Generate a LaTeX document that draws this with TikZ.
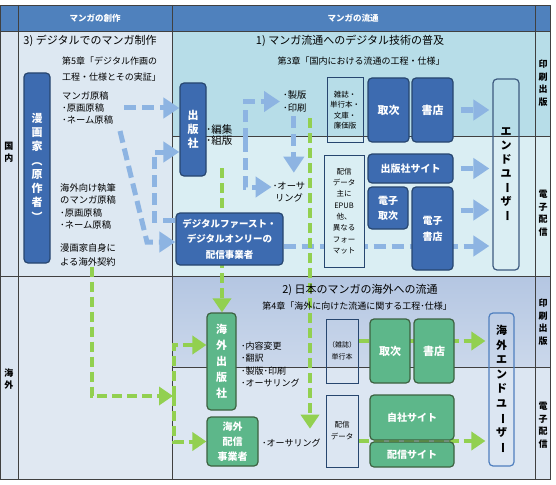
\documentclass[tikz,border=0pt]{standalone}
\usepackage{fontspec}
\setmainfont{Noto Sans CJK JP}
\usetikzlibrary{arrows.meta}
\definecolor{hdblue}{HTML}{4F81BD}
\definecolor{pubblue}{HTML}{3D6BB0}
\definecolor{publine}{HTML}{27466F}
\definecolor{grnfill}{HTML}{5DB78A}
\definecolor{grnline}{HTML}{3C6140}
\definecolor{arrblue}{HTML}{8DB4E2}
\definecolor{arrgreen}{HTML}{92D050}
\definecolor{printbg}{HTML}{B7DDE8}
\definecolor{ebg}{HTML}{DAEEF3}
\definecolor{leftbg}{HTML}{DDE8F2}
\definecolor{firstcol}{HTML}{DBE5F1}
\definecolor{ovtop}{HTML}{B4C6E2}
\definecolor{ovbot}{HTML}{CBD8EB}
\definecolor{ovebg}{HTML}{DCE6F2}
\definecolor{ovleft}{HTML}{E0E8F2}
\definecolor{gridc}{HTML}{404040}
\definecolor{userline}{HTML}{3D5A7F}
\definecolor{kendline}{HTML}{4F7FBF}
\newcommand{\tatechar}[1]{\rotatebox[origin=c]{-90}{#1}}
\pgfdeclarelayer{back}
\pgfsetlayers{back,main}
\tikzstyle{pub} = [rounded corners=4pt, fill=pubblue, draw=publine, line width=1.2pt, text=white, align=center, inner sep=0pt, font=\bfseries\fontsize{11}{14}\selectfont]
\tikzstyle{grn} = [rounded corners=4pt, fill=grnfill, draw=grnline, line width=1.2pt, text=white, align=center, inner sep=0pt, font=\bfseries\fontsize{11}{16}\selectfont]
\tikzstyle{wbox} = [draw=publine, line width=1pt, align=center, inner sep=0pt, font=\fontsize{7.5}{10.5}\selectfont]
\tikzstyle{user} = [rounded corners=4pt, draw=userline, line width=1.2pt, align=center, inner sep=0pt, font=\bfseries\fontsize{11}{14}\selectfont]
\tikzstyle{lbl} = [align=left, inner sep=0pt, anchor=west, font=\fontsize{9.3}{12.3}\selectfont]
\tikzstyle{ttl} = [inner sep=0pt, font=\fontsize{11}{13}\selectfont]
\tikzstyle{sml} = [inner sep=0pt, font=\fontsize{9}{15}\selectfont]
\tikzstyle{hdr} = [inner sep=0pt, text=white, font=\bfseries\fontsize{8.5}{10}\selectfont]
\tikzstyle{side} = [inner sep=0pt, align=center, font=\bfseries\fontsize{9}{12.5}\selectfont]
\tikzstyle{grid} = [draw=gridc, line width=0.8pt]
\tikzstyle{barrow} = [draw=arrblue, line width=5pt, dash pattern=on 12pt off 6pt, -{Triangle[length=16pt,width=20pt]}]
\tikzstyle{garrow} = [draw=arrgreen, line width=4pt, dash pattern=on 10pt off 5pt, -{Triangle[length=14pt,width=18pt]}]

\begin{document}
\begin{tikzpicture}[x=1pt,y=-1pt]
  \useasboundingbox (0,0) rectangle (556,484);
  \begin{pgfonlayer}{back}
    \fill[firstcol] (0,31) rectangle (18,479);
    \fill[leftbg] (18,31) rectangle (172,276);
    \fill[ovleft] (18,276) rectangle (172,479);
    \fill[printbg] (172,31) rectangle (550,136);
    \fill[ebg] (172,136) rectangle (550,276);
    \shade[top color=ovtop, bottom color=ovbot] (172,276) rectangle (550,367);
    \fill[ovebg] (172,367) rectangle (550,479);
    \fill[hdblue] (0,5) rectangle (550,31);
    \draw[grid] (0,5) rectangle (550,479);
    \draw[grid] (0,31) -- (550,31) (0,276) -- (550,276) (172,136) -- (550,136) (172,367) -- (550,367);
    \draw[grid] (18,5) -- (18,479) (172,5) -- (172,479) (535,5) -- (535,479);
  \end{pgfonlayer}

  \node (hd1) at (95,18) [hdr] {マンガの創作};
  \node (hd2) at (353,18) [hdr] {マンガの流通};
  \node (kokunai) at (9,152) [side] {国\\内};
  \node (kaigai) at (9,379) [side] {海\\外};
  \node (r1) at (543,83) [side] {印\\刷\\出\\版};
  \node (r2) at (543,213) [side] {電\\子\\配\\信};
  \node (r3) at (543,322) [side] {印\\刷\\出\\版};
  \node (r4) at (543,425) [side] {電\\子\\配\\信};

  \node (t3) at (90,41) [ttl] {3) デジタルでのマンガ制作};
  \node (ch5) at (62,69) [lbl, font=\fontsize{9}{15.5}\selectfont] {第5章「デジタル作画の\\工程・仕様とその実証」};
  \node (t1) at (350,41) [ttl] {1) マンガ流通へのデジタル技術の普及};
  \node (ch3) at (361,61) [sml] {第3章「国内における流通の工程・仕様」};
  \node (t2) at (360,290) [ttl] {2) 日本のマンガの海外への流通};
  \node (ch4) at (357,306) [sml] {第4章「海外に向けた流通に関する工程･仕様」};

  \node (mangaka) at (37,168) [pub, minimum width=26pt, minimum height=190pt] {漫\\画\\家\\\tatechar{（}\\原\\作\\者\\\tatechar{）}};
  \node (ms1) at (62,108) [lbl] {マンガ原稿\\･原画原稿\\･ネーム原稿};
  \node (ms2) at (60,206.5) [lbl] {海外向け執筆\\のマンガ原稿\\･原画原稿\\･ネーム原稿};
  \node (keiyaku) at (60,255) [lbl, font=\fontsize{9.3}{14}\selectfont] {漫画家自身に\\よる海外契約};

  \node (shuppan) at (193,129.5) [pub, minimum width=26pt, minimum height=93pt] {出\\版\\社};
  \node (henshu) at (206,135.5) [lbl, font=\fontsize{10.5}{11}\selectfont] {･編集\\･組版};
  \node (dfirst) at (229.5,239) [pub, minimum width=107pt, minimum height=52pt, font=\bfseries\fontsize{9.5}{15.5}\selectfont] {デジタルファースト・\\デジタルオンリーの\\配信事業者};
  \node (seihan) at (283,101.5) [lbl] {･製版\\･印刷};
  \node (auth) at (289,192) [lbl, anchor=center, align=center] {･オーサ\\リング};

  \node (zasshi) at (345,110) [wbox, minimum width=36pt, minimum height=64pt] {雑誌・\\単行本・\\文庫・\\廉価版};
  \node (toritsugi) at (388.5,110) [pub, minimum width=41pt, minimum height=64pt] {取次};
  \node (shoten) at (432.5,110) [pub, minimum width=41pt, minimum height=64pt] {書店};
  \node (enduser) at (506,174.5) [user, minimum width=26pt, minimum height=191pt] {エ\\ン\\ド\\ユ\\\tatechar{ー}\\ザ\\\tatechar{ー}};
  \node (haishin) at (344,211) [wbox, fill=ebg, minimum width=40pt, minimum height=112pt, font=\fontsize{7.5}{11.3}\selectfont] {配信\\データ\\主に\\EPUB\\他、\\異なる\\フォー\\マット};
  \node (site) at (410.5,168.5) [pub, minimum width=85pt, minimum height=29pt, font=\bfseries\fontsize{10}{13}\selectfont] {出版社サイト};
  \node (etoritsugi) at (388,208) [pub, minimum width=40pt, minimum height=42pt, font=\bfseries\fontsize{10}{15}\selectfont] {電子\\取次};
  \node (eshoten) at (432.5,228.5) [pub, minimum width=41pt, minimum height=83pt, font=\bfseries\fontsize{10}{16}\selectfont] {電子\\書店};

  \node (kshuppan) at (221.5,361.5) [grn, minimum width=29pt, minimum height=97pt] {海\\外\\出\\版\\社};
  \node (kwork) at (241,364.5) [lbl, font=\fontsize{9}{12.3}\selectfont] {･内容変更\\･翻訳\\･製版･印刷\\･オーサリング};
  \node (khaishin) at (232.5,441.5) [grn, minimum width=51pt, minimum height=49pt, font=\bfseries\fontsize{10}{15}\selectfont] {海外\\配信\\事業者};
  \node (auth2) at (262,443) [lbl, font=\fontsize{9}{12}\selectfont] {･オーサリング};
  \node (tankobon) at (342,351) [wbox, minimum width=32pt, minimum height=64pt, font=\fontsize{7}{12}\selectfont] {（雑誌）\\単行本};
  \node (gtoritsugi) at (390,351) [grn, minimum width=40pt, minimum height=64pt] {取次};
  \node (gshoten) at (434,351) [grn, minimum width=40pt, minimum height=64pt] {書店};
  \node (hdata) at (342,431) [wbox, fill=ovebg, minimum width=32pt, minimum height=72pt, font=\fontsize{7.5}{12}\selectfont] {配信\\データ};
  \node (jisha) at (412,417.5) [grn, minimum width=84pt, minimum height=45pt, font=\bfseries\fontsize{10}{13}\selectfont] {自社サイト};
  \node (hsite) at (412,454.5) [grn, minimum width=84pt, minimum height=25pt, font=\bfseries\fontsize{10}{13}\selectfont] {配信サイト};
  \node (kend) at (501.5,389.5) [user, draw=kendline, minimum width=25pt, minimum height=153pt, font=\bfseries\fontsize{11}{14.5}\selectfont] {海\\外\\エ\\ン\\ド\\ユ\\\tatechar{ー}\\ザ\\\tatechar{ー}};

  \coordinate (d1) at (120,131);
  \coordinate (d2) at (147,242);
  \coordinate (brk) at (245,140);
  \coordinate (g1) at (222,168);
  \coordinate (g2) at (310,118);
  \coordinate (k2) at (174,396);

  \begin{pgfonlayer}{back}
    \draw [barrow] ([xshift=11pt]ms1.east) -- (ms1.east -| shuppan.west);
    \draw [barrow] (d1) -- (d2) -- (d2 -| dfirst.west);
    \draw [barrow] ([yshift=19pt]dfirst.west) -- ++(-21,0) |- ([yshift=-22.5pt]shuppan.west);
    \draw [barrow, shorten >=3pt] (brk) |- (seihan.west);
    \draw [barrow, shorten >=1pt] (brk) |- ([yshift=5pt]auth.west);
    \draw [barrow, shorten <=4pt, shorten >=9pt] ([xshift=-1pt]seihan.south) -- ([xshift=-1pt]seihan.south |- auth.north);
    \draw [barrow, shorten <=7pt, shorten >=3pt] (shoten.east) -- (shoten.east -| enduser.west);
    \draw [barrow, shorten <=7pt, shorten >=3pt] (site.east) -- (site.east -| enduser.west);
    \draw [barrow, shorten <=7pt, shorten >=3pt] ([yshift=18.5pt]eshoten.east) -- ([yshift=18.5pt]eshoten.east -| enduser.west);
    \draw [barrow, shorten >=3pt] ([yshift=-7pt]dfirst.east) -- ([yshift=-7pt]dfirst.east -| enduser.west);
    \draw [garrow] (g1) -- (g1 |- kshuppan.north);
    \draw [garrow, shorten >=10pt] (g2) -- (g2 |- auth2.north);
    \draw [garrow, shorten >=1pt] ([xshift=3.5pt]keiyaku.south) |- (k2);
    \draw [garrow] (k2) |- ([yshift=16.5pt]kshuppan.west);
    \draw [garrow] (k2) |- (khaishin.west);
    \draw [garrow, shorten >=3pt] ([yshift=10pt]tankobon.east) -- ([yshift=10pt]tankobon.east -| kend.west);
    \draw [garrow, shorten >=3pt] ([yshift=-10pt]hdata.east) -- ([yshift=-10pt]hdata.east -| kend.west);
  \end{pgfonlayer}
\end{tikzpicture}
\end{document}
